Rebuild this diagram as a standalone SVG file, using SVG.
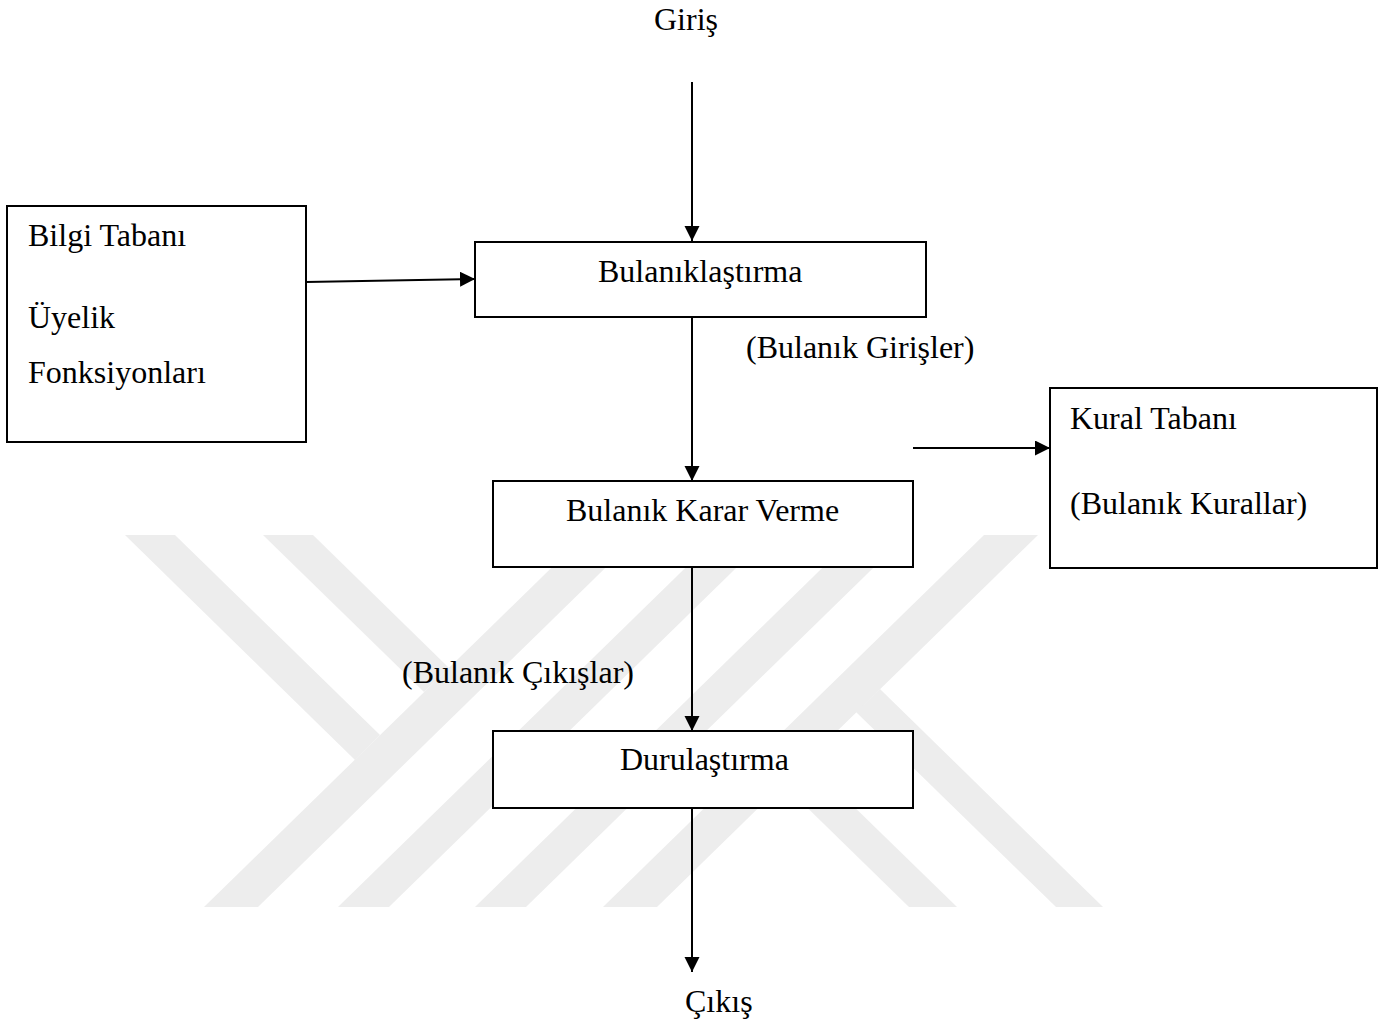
<svg xmlns="http://www.w3.org/2000/svg" width="1392" height="1025" viewBox="0 0 1392 1025">
  <style>
    .box { fill: #ffffff; stroke: #000000; stroke-width: 2; }
    .txt { font-family: "Liberation Serif", "Times New Roman", serif; font-size: 32px; fill: #000000; }
    .wm { fill: #ededed; stroke: none; }
    .conn { stroke: #000000; stroke-width: 2; fill: none; marker-end: url(#arrow); }
  </style>
  <defs>
    <marker id="arrow" markerUnits="userSpaceOnUse" markerWidth="16" markerHeight="16" refX="15" refY="7.5" orient="auto">
      <path d="M0,0 L15,7.5 L0,15 Z" fill="#000000"/>
    </marker>
  </defs>
  <rect x="0" y="0" width="1392" height="1025" fill="#ffffff"/>

  <g id="watermark">
    <polygon class="wm" points="125,535 175,535 380,735 355,760"/>
    <polygon class="wm" points="263,535 313,535 449,668 424,692"/>
    <polygon class="wm" points="585,535 639,535 258,907 204,907"/>
    <polygon class="wm" points="719,535 770,535 389,907 338,907"/>
    <polygon class="wm" points="856,535 907,535 526,907 475,907"/>
    <polygon class="wm" points="984,535 1038,535 657,907 603,907"/>
    <polygon class="wm" points="880,689 1103,907 1056,907 856,712"/>
    <polygon class="wm" points="807,761 957,907 909,907 783,784"/>
  </g>

  <g id="connectors">
    <line class="conn" x1="692" y1="82" x2="692" y2="241"/>
    <line class="conn" x1="306" y1="282" x2="475" y2="279"/>
    <line class="conn" x1="692" y1="317" x2="692" y2="481"/>
    <line class="conn" x1="913" y1="448" x2="1050" y2="448"/>
    <line class="conn" x1="692" y1="567" x2="692" y2="731"/>
    <line class="conn" x1="692" y1="808" x2="692" y2="972"/>
  </g>

  <g id="input">
    <text class="txt" x="654" y="30">Giriş</text>
  </g>

  <g id="bilgi-tabani">
    <rect class="box" x="7" y="206" width="299" height="236"/>
    <text class="txt" x="28" y="246">Bilgi Tabanı</text>
    <text class="txt" x="28" y="328">Üyelik</text>
    <text class="txt" x="28" y="383">Fonksiyonları</text>
  </g>

  <g id="bulaniklastirma">
    <rect class="box" x="475" y="242" width="451" height="75"/>
    <text class="txt" x="598" y="282">Bulanıklaştırma</text>
  </g>

  <g id="label-girisler">
    <text class="txt" x="746" y="358">(Bulanık Girişler)</text>
  </g>

  <g id="karar-verme">
    <rect class="box" x="493" y="481" width="420" height="86"/>
    <text class="txt" x="566" y="521">Bulanık Karar Verme</text>
  </g>

  <g id="kural-tabani">
    <rect class="box" x="1050" y="388" width="327" height="180"/>
    <text class="txt" x="1070" y="429">Kural Tabanı</text>
    <text class="txt" x="1070" y="514">(Bulanık Kurallar)</text>
  </g>

  <g id="label-cikislar">
    <text class="txt" x="402" y="683">(Bulanık Çıkışlar)</text>
  </g>

  <g id="durulastirma">
    <rect class="box" x="493" y="731" width="420" height="77"/>
    <text class="txt" x="620" y="770">Durulaştırma</text>
  </g>

  <g id="output">
    <text class="txt" x="685" y="1012">Çıkış</text>
  </g>
</svg>
